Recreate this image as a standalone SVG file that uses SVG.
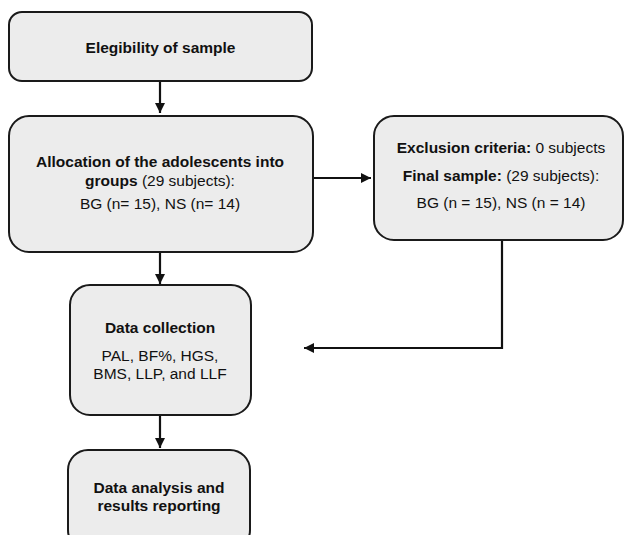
<svg xmlns="http://www.w3.org/2000/svg" width="624" height="535" viewBox="0 0 624 535">
<defs>
<style>
.box{fill:#ececec;stroke:#1a1a1a;stroke-width:2}
.t{font-family:"Liberation Sans",Arial,sans-serif;font-size:15.5px;fill:#111;text-anchor:middle}
.b{font-weight:bold}
.c{fill:none;stroke:#111;stroke-width:2.2}
</style>
<marker id="ah" markerWidth="10" markerHeight="10" viewBox="0 0 10 10" refX="10" refY="5" orient="auto" markerUnits="userSpaceOnUse">
<path d="M0,0 L10,5 L0,10 Z" fill="#111"/>
</marker>
</defs>
<rect width="624" height="535" fill="#fff"/>
<g id="connectors">
<line class="c" x1="160" y1="81" x2="160" y2="113" marker-end="url(#ah)"/>
<line class="c" x1="313" y1="178" x2="371" y2="178" marker-end="url(#ah)"/>
<line class="c" x1="160" y1="252" x2="160" y2="284" marker-end="url(#ah)"/>
<polyline class="c" points="502,240 502,348 304,348" marker-end="url(#ah)"/>
<line class="c" x1="160" y1="415" x2="160" y2="448" marker-end="url(#ah)"/>
</g>
<g id="eligibility">
<rect class="box" x="9" y="12" width="303" height="69" rx="13"/>
<text class="t b" x="160.5" y="53">Elegibility of sample</text>
</g>
<g id="allocation">
<rect class="box" x="9" y="116" width="304" height="136" rx="20"/>
<text class="t b" x="160" y="167">Allocation of the adolescents into</text>
<text class="t" x="160" y="186"><tspan class="b">groups</tspan> (29 subjects):</text>
<text class="t" x="160" y="209">BG (n= 15), NS (n= 14)</text>
</g>
<g id="exclusion">
<rect class="box" x="374" y="116" width="249" height="124" rx="20"/>
<text class="t" x="501" y="153"><tspan class="b">Exclusion criteria:</tspan> 0 subjects</text>
<text class="t" x="501" y="181"><tspan class="b">Final sample:</tspan> (29 subjects):</text>
<text class="t" x="501" y="208">BG (n = 15), NS (n = 14)</text>
</g>
<g id="collection">
<rect class="box" x="70" y="285" width="181" height="130" rx="20"/>
<text class="t b" x="160" y="333">Data collection</text>
<text class="t" x="160" y="361">PAL, BF%, HGS,</text>
<text class="t" x="160" y="379">BMS, LLP, and LLF</text>
</g>
<g id="analysis">
<rect class="box" x="68" y="450" width="182" height="100" rx="20"/>
<text class="t b" x="159" y="493">Data analysis and</text>
<text class="t b" x="159" y="511">results reporting</text>
</g>
</svg>
